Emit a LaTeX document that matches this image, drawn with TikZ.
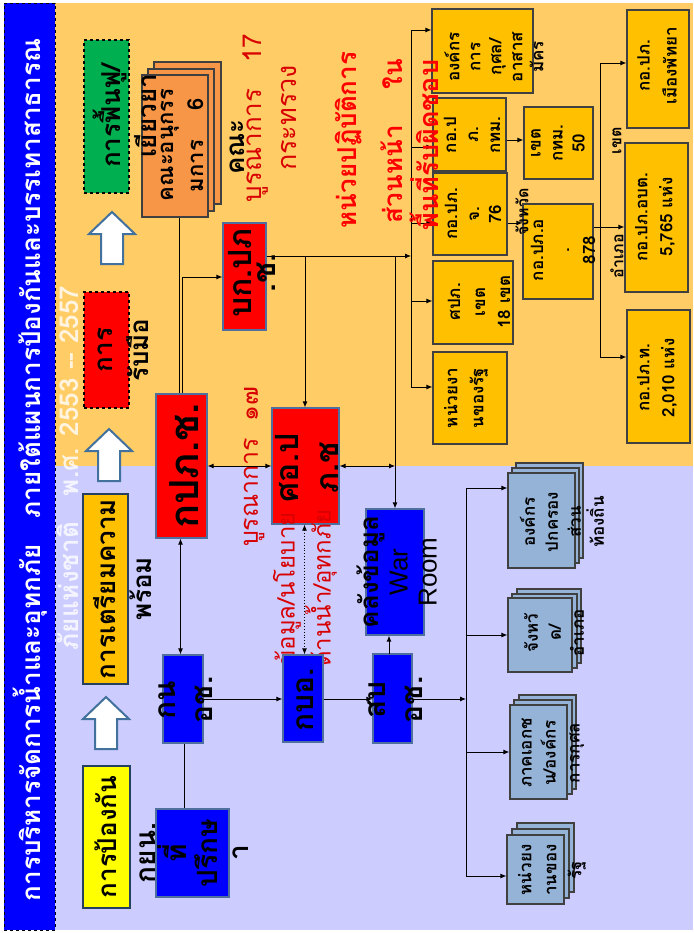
\documentclass[tikz,border=0pt]{standalone}
\usepackage{fontspec}
\newfontfamily\thai[Script=Thai]{Loma}
\newfontfamily\lat{Liberation Sans}
\usetikzlibrary{fit,arrows.meta}
\definecolor{bgorange}{HTML}{FFCC66}
\definecolor{bglav}{HTML}{CCCCFF}
\definecolor{titleblue}{HTML}{0000FF}
\definecolor{boxblue}{HTML}{0000FF}
\definecolor{boxred}{HTML}{FF0000}
\definecolor{gold}{HTML}{FFC000}
\definecolor{ltblue}{HTML}{95B3D7}
\definecolor{orstack}{HTML}{F79646}
\definecolor{stgreen}{HTML}{00B050}
\definecolor{styellow}{HTML}{FFFF00}
\definecolor{stageedge}{HTML}{243F60}
\definecolor{steeledge}{HTML}{4F6F9F}
\definecolor{darkedge}{HTML}{404040}
\definecolor{arrowedge}{HTML}{41719C}
\definecolor{txred}{HTML}{FF0000}
\definecolor{txdred}{HTML}{D80000}
\newcommand\fz[2]{\fontsize{#1}{#2}\selectfont}
\newcommand\stagearrow[2]{%
  \draw[blockarrow] (#1,#2) -- ++(23,22) -- ++(-12,0) -- ++(0,30) -- ++(-22,0)
    -- ++(0,-30) -- ++(-12,0) -- cycle;}
\begin{document}
\begin{tikzpicture}[x=1pt,y=-1pt,
  line/.style={line width=0.9pt, draw=black},
  arr/.style={line, -{Latex[length=6pt,width=5pt]}},
  darr/.style={line, {Latex[length=6pt,width=5pt]}-{Latex[length=6pt,width=5pt]}},
  tx/.style={rotate=90, align=center, inner sep=0pt, font=\thai\bfseries},
  stagebox/.style={draw=stageedge, line width=2pt, inner sep=0pt},
  redbox/.style={draw=steeledge, line width=1.2pt, fill=boxred, inner sep=0pt},
  bluebox/.style={draw=steeledge, line width=1.2pt, fill=boxblue, inner sep=0pt},
  goldbox/.style={draw=darkedge, line width=1.2pt, fill=gold, inner sep=0pt},
  lbbox/.style={draw=darkedge, line width=1.2pt, fill=ltblue, inner sep=0pt},
  orbox/.style={draw=darkedge, line width=1.2pt, fill=orstack, inner sep=0pt},
  blockarrow/.style={fill=white, draw=arrowedge, line width=2pt, line join=miter},
]
% page and the two coloured bands
\fill[white] (0,0) rectangle (693,933);
\useasboundingbox (0,0) rectangle (693,933);
\fill[bgorange] (55,3) rectangle (693,466);
\fill[bglav] (55,466) rectangle (693,930);
\node[draw=black, dashed, fill=titleblue, inner sep=0pt, fit={(4,3) (55,930)}] (strip) {};

% title
\node[tx, text=white, font=\thai\bfseries\fz{26}{30}] (title1) at (30,470)
  {การบริหารจัดการน้ำและอุทกภัย\quad ภายใต้แผนการป้องกันและบรรเทาสาธารณ};
\node[tx, text=white, text opacity=0.8, font=\thai\bfseries\fz{26}{30}] (title2) at (68,468)
  {ภัยแห่งชาติ\quad พ.ศ. 2553 -- 2557};

% stages
\node[stagebox, fill=styellow, fit={(83,766) (130,908)}] (prevent) {};
\node[stagebox, fill=gold, fit={(83,494) (128,684)}] (prepare) {};
\node[stagebox, draw=black, dashed, line width=1.2pt, fill=boxred, fit={(84,292) (129,408)}] (respond) {};
\node[stagebox, draw=black, dashed, line width=1.2pt, fill=stgreen, fit={(84,40) (129,193)}] (recover) {};
\stagearrow{106}{697}
\stagearrow{109}{429}
\stagearrow{112}{212}

% stacked committee box
\draw[orbox] (154,62) rectangle (221,204);
\draw[orbox] (148,69) rectangle (214,211);
\node[orbox, fit={(142,75) (208,217)}] (subcom) {};

\node[tx, font=\thai\bfseries\fz{26}{36}] (tprevent) at (106,837) {การป้องกัน};
\node[tx, font=\thai\bfseries\fz{26}{36}] (tprepare) at (123,589) {การเตรียมความ\\พร้อม};
\node[tx, font=\thai\bfseries\fz{26}{36}] (trespond) at (123,350) {การ\\รับมือ};
\node[tx, font=\thai\bfseries\fz{26}{36}] (trecover) at (125,116) {การฟื้นฟู/\\เยียวยา};
\node[tx, font=\thai\bfseries\fz{22}{30}] (tsubcom) at (182,145) {คณะอนุกรร\\มการ\hspace{30pt}6};

% committee notes
\node[tx, font=\thai\bfseries\fz{26}{28}] (tkana) at (237,147) {คณะ};
\node[tx, text=txdred, font=\thai\fz{26}{30}] (tbura) at (256,118) {บูรณาการ\hspace{26pt}17};
\node[tx, text=txdred, font=\thai\fz{27}{30}] (tmin) at (289,118) {กระทรวง};
\node[tx, text=txred, font=\thai\bfseries\fz{26}{32}] (tunit1) at (349,140) {หน่วยปฏิบัติการ};
\node[tx, text=txred, font=\thai\bfseries\fz{26}{32}] (tunit2) at (392,141) {\makebox[164pt][s]{ส่วนหน้า\hfill ใน}};

% right-hand operational units
\node[goldbox, fit={(432,9) (533,93)}] (charity) {};
\node[goldbox, fit={(433,98) (506,171)}] (bkk) {};
\node[goldbox, fit={(433,173) (507,255)}] (prov) {};
\node[goldbox, fit={(433,261) (513,344)}] (region) {};
\node[goldbox, fit={(433,352) (507,444)}] (gov) {};
\node[goldbox, fit={(524,107) (593,179)}] (bkkdist) {};
\node[goldbox, fit={(523,204) (593,299)}] (district) {};
\node[goldbox, fit={(627,10) (689,128)}] (pattaya) {};
\node[goldbox, fit={(625,143) (688,292)}] (sao) {};
\node[goldbox, fit={(627,310) (690,443)}] (muni) {};

\node[tx, font=\thai\bfseries\fz{17}{21}] (tcharity) at (494,57) {องค์กร\\การ\\กุศล/\\อาสาส\\มัคร};
\node[tx, font=\thai\bfseries\fz{17}{22}] (tbkk) at (472,135) {กอ.ป\\ภ.\\กทม.};
\node[tx, font=\thai\bfseries\fz{17}{22}] (tprov) at (473,214) {กอ.ปภ.\\จ.\\76};
\node[tx, font=\thai\bfseries\fz{17}{25}] (tregion) at (479,302) {ศปภ.\\เขต\\18 เขต};
\node[tx, font=\thai\bfseries\fz{17}{26}] (tgov) at (466,398) {หน่วยงา\\นของรัฐ};
\node[tx, font=\thai\bfseries\fz{17}{22}] (tbkkdist) at (558,143) {เขต\\กทม.\\50};
\node[tx, font=\thai\bfseries\fz{17}{26}] (tdistrict) at (563,250) {กอ.ปภ.อ\\.\\878};
\node[tx, font=\thai\bfseries\fz{17}{27}] (tpattaya) at (657,66) {กอ.ปภ.\\เมืองพัทยา};
\node[tx, font=\thai\bfseries\fz{17}{25}] (tsao) at (655,217) {กอ.ปภ.อบต.\\5,765 แห่ง};
\node[tx, font=\thai\bfseries\fz{17}{25}] (tmuni) at (657,378) {กอ.ปภ.ท.\\2,010 แห่ง};
\node[tx, font=\thai\bfseries\fz{16}{20}] (lprov) at (522,212) {จังหวัด};
\node[tx, font=\thai\bfseries\fz{16}{20}] (ldist) at (617,256) {อำเภอ};
\node[tx, font=\thai\bfseries\fz{16}{20}] (lbkk) at (617,141) {เขต};

% national command boxes
\node[redbox, fit={(156,394) (207,538)}] (nat) {};
\node[redbox, fit={(223,223) (266,330)}] (hq) {};
\node[redbox, fit={(272,408) (339,524)}] (ops) {};
\node[tx, font=\thai\bfseries\fz{40}{44}] (tnat) at (184,466) {กปภ.ช.};
\node[tx, font=\thai\bfseries\fz{32}{24}] (thq) at (252,273) {บก.ปภ\\.ช.};
\node[tx, font=\thai\bfseries\fz{32}{40}] (tops) at (307,468) {ศอ.ป\\ภ.ช};
\node[tx, text=txdred, font=\thai\fz{25}{28}] (tb17) at (254,467) {บูรณาการ\hspace{16pt}๑๗};
\node[tx, anchor=west, align=left, text=txdred, font=\thai\fz{24}{36}] (tinfo) at (305,667)
  {ข้อมูล/นโยบาย\\ด้านน้ำ/อุทกภัย};

% water management boxes
\node[bluebox, fit={(163,655) (203,743)}] (wrc) {};
\node[bluebox, fit={(283,655) (323,742)}] (wmb) {};
\node[bluebox, fit={(373,654) (412,743)}] (wmo) {};
\node[bluebox, fit={(366,509) (424,635)}] (war) {};
\node[bluebox, fit={(156,809) (229,897)}] (adv) {};
\node[tx, font=\thai\bfseries\fz{30}{37}] (twrc) at (186,700) {กน\\อช.};
\node[tx, font=\thai\bfseries\fz{30}{37}] (twmb) at (305,700) {กบอ.};
\node[tx, font=\thai\bfseries\fz{30}{37}] (twmo) at (395,700) {สบ\\อช.};
\node[tx, font=\thai\bfseries\fz{28}{31}] (tadv) at (194,853) {กยน.\\ที่\\ปรึกษ\\า};
\node[tx, font=\fz{26}{29}] (twar) at (397,572) {{\thai\bfseries คลังข้อมูล}\\{\lat War}\\{\lat Room}};

% stacked local partners
\draw[lbbox] (516,463) rectangle (583,558);
\draw[lbbox] (512,468) rectangle (579,563);
\node[lbbox, fit={(508,473) (575,568)}] (local) {};
\draw[lbbox] (517,589) rectangle (581,663);
\draw[lbbox] (512,594) rectangle (577,668);
\node[lbbox, fit={(508,598) (572,672)}] (provamp) {};
\draw[lbbox] (519,695) rectangle (576,789);
\draw[lbbox] (514,700) rectangle (572,794);
\node[lbbox, fit={(510,705) (567,799)}] (private) {};
\draw[lbbox] (517,823) rectangle (574,892);
\draw[lbbox] (512,829) rectangle (569,898);
\node[lbbox, fit={(507,835) (564,904)}] (state) {};
\node[tx, font=\thai\bfseries\fz{17}{23}] (tlocal) at (562,522) {องค์กร\\ปกครอง\\ส่วน\\ท้องถิ่น};
\node[tx, font=\thai\bfseries\fz{17}{23}] (tprovamp) at (554,633) {จังหวั\\ด/\\อำเภอ};
\node[tx, font=\thai\bfseries\fz{17}{24}] (tprivate) at (553,753) {ภาคเอกช\\น/องค์กร\\การกุศล};
\node[tx, font=\thai\bfseries\fz{17}{25}] (tstate) at (552,870) {หน่วยง\\านของ\\รัฐ};

% bus coordinates
\coordinate (busA) at (411,256);
\coordinate (busAtop) at (411,30);
\coordinate (busAbot) at (411,387);
\coordinate (busB) at (466,699);
\coordinate (busBtop) at (466,488);
\coordinate (busBbot) at (466,876);
\coordinate (busCtop) at (600,63);
\coordinate (busCbot) at (600,357);

% connectors, upper half
\draw[line] ([xshift=-2.5pt]subcom.south -| nat.north) -- ([xshift=-2.5pt]nat.north);
\draw[arr] ([xshift=0.5pt]nat.north) |- (hq.west |- 0,277);
\draw[arr] (hq.east |- 0,256) -- (busA);
\draw[line] (busAtop) -- (busAbot);
\draw[arr] (busAtop) -- (charity.west |- busAtop);
\draw[arr] (411,147) -- (bkk.west |- 0,147);
\draw[arr] (411,223) -- (prov.west |- 0,223);
\draw[arr] (411,301) -- (region.west |- 0,301);
\draw[arr] (busAbot) -- (gov.west |- busAbot);
\draw[arr] (bkk.east |- 0,140) -- (bkkdist.west |- 0,140);
\draw[arr] (prov.east |- 0,223) -- (district.west |- 0,223);
\draw[line] (busCtop) -- (busCbot);
\draw[arr] (busCtop) -- (pattaya.west |- busCtop);
\draw[arr] (district.east |- 0,227) -- (sao.west |- 0,227);
\draw[arr] (busCbot) -- (muni.west |- busCbot);
\draw[arr] (305,256) -- (ops.north -| 305,0);
\draw[arr] (395,256) -- (war.north -| 395,0);
\draw[darr] (nat.east |- 0,466) -- (ops.west |- 0,466);
\draw[darr] (ops.east |- 0,466) -- (395,466);

% connectors, lower half
\draw[darr] ([xshift=-1pt]nat.south) -- ([xshift=-1pt]nat.south |- wrc.north);
\draw[line] ([xshift=1pt]wrc.south) -- ([xshift=1pt]wrc.south |- adv.north);
\draw[arr] (wrc.east |- 0,699) -- (wmb.west |- 0,699);
\draw[arr] (wmb.east |- 0,699) -- (wmo.west |- 0,699);
\draw[darr, dotted] ([xshift=-1pt]ops.south) -- ([xshift=-1pt]ops.south |- wmb.north);
\draw[arr] (389,654) -- (war.south -| 389,0);
\draw[arr] (wmo.east |- busB) -- (busB);
\draw[line] (busBtop) -- (busBbot);
\draw[arr] (busBtop) -- (local.west |- busBtop);
\draw[arr] (466,635) -- (provamp.west |- 0,635);
\draw[arr] (466,752) -- (private.west |- 0,752);
\draw[arr] (busBbot) -- (state.west |- busBbot);

% overlapping red caption on the bus
\node[tx, text=txred, font=\thai\bfseries\fz{27}{32}] (tunit3) at (424,145) {พื้นที่รับผิดชอบ};
\end{tikzpicture}
\end{document}
